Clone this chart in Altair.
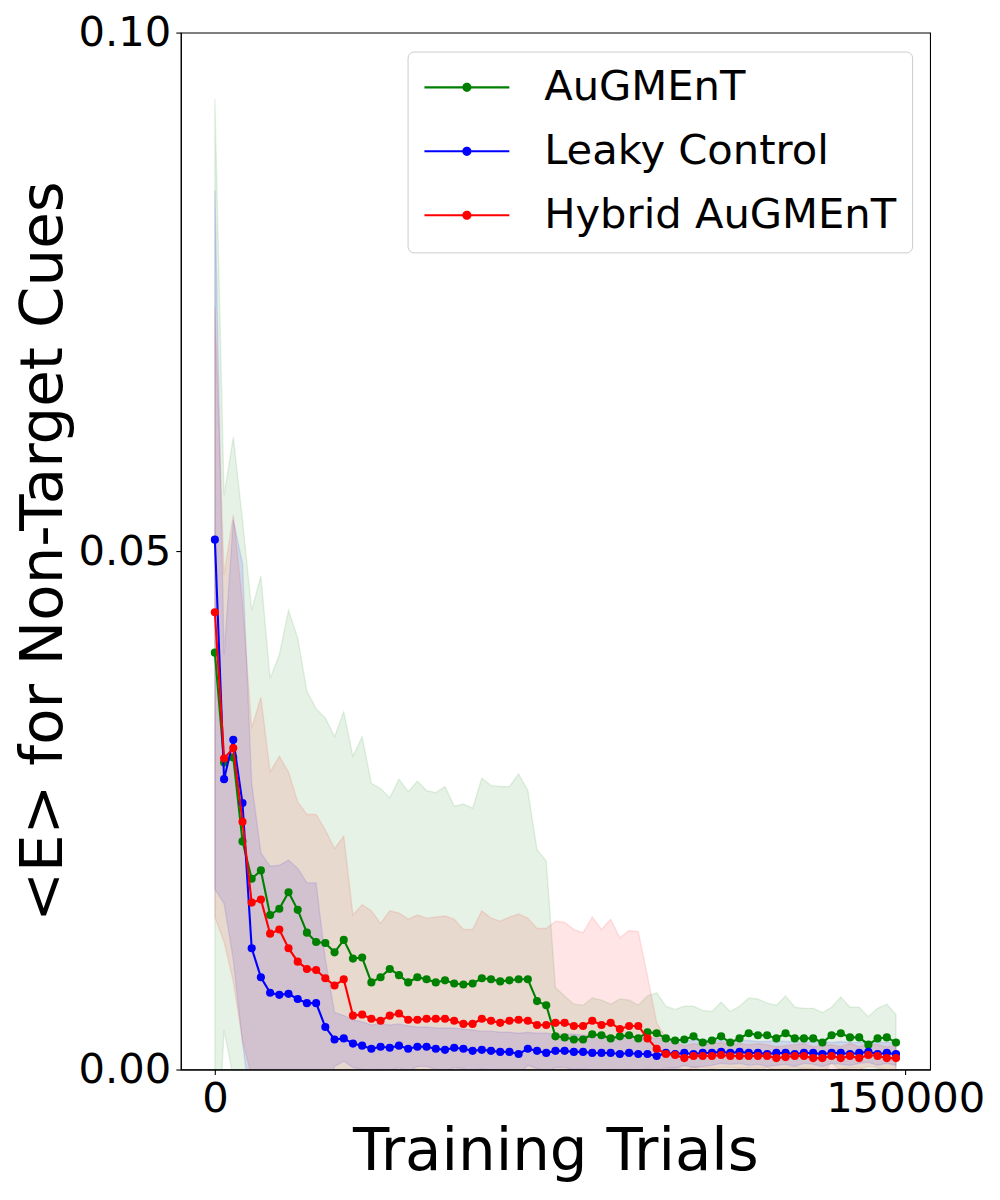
import altair as alt
import pandas as pd

trials = list(range(0, 150000, 2000))  # 75 evaluation points

series_names = ["AuGMEnT", "Leaky Control", "Hybrid AuGMEnT"]
series_colors = ["#008000", "#0000ff", "#ff0000"]

green_mean = [0.0402, 0.0296, 0.0301, 0.0220, 0.0184, 0.0192, 0.0149, 0.0155, 0.0171, 0.0154,
              0.0132, 0.0123, 0.0122, 0.0113, 0.0125, 0.0107, 0.0108, 0.0084, 0.0089, 0.0097,
              0.0091, 0.0084, 0.0089, 0.0087, 0.0084, 0.0086, 0.0083, 0.0082, 0.0083, 0.0088,
              0.0087, 0.0085, 0.0086, 0.0087, 0.0087, 0.0066, 0.0062, 0.0032, 0.0031, 0.0029,
              0.0029, 0.0034, 0.0033, 0.0030, 0.0032, 0.0033, 0.0030, 0.0036, 0.0035, 0.0030,
              0.0028, 0.0029, 0.0032, 0.0026, 0.0028, 0.0032, 0.0026, 0.0030, 0.0035, 0.0033,
              0.0033, 0.0030, 0.0035, 0.0030, 0.0030, 0.0030, 0.0026, 0.0033, 0.0035, 0.0031,
              0.0031, 0.0024, 0.0030, 0.0031, 0.0026]
green_upper = [0.0936, 0.0554, 0.0610, 0.0530, 0.0443, 0.0476, 0.0377, 0.0400, 0.0443, 0.0416,
               0.0365, 0.0348, 0.0339, 0.0321, 0.0345, 0.0302, 0.0321, 0.0276, 0.0271, 0.0262,
               0.0280, 0.0268, 0.0278, 0.0269, 0.0267, 0.0273, 0.0254, 0.0256, 0.0252, 0.0281,
               0.0274, 0.0273, 0.0273, 0.0285, 0.0269, 0.0212, 0.0201, 0.0079, 0.0071, 0.0063,
               0.0062, 0.0069, 0.0067, 0.0063, 0.0068, 0.0067, 0.0062, 0.0071, 0.0074, 0.0061,
               0.0058, 0.0061, 0.0061, 0.0057, 0.0056, 0.0065, 0.0056, 0.0061, 0.0069, 0.0068,
               0.0064, 0.0062, 0.0071, 0.0060, 0.0059, 0.0059, 0.0055, 0.0060, 0.0070, 0.0060,
               0.0060, 0.0051, 0.0059, 0.0063, 0.0053]

blue_mean = [0.0511, 0.0280, 0.0318, 0.0257, 0.0117, 0.0089, 0.0074, 0.0072, 0.0073, 0.0068,
             0.0064, 0.0064, 0.0041, 0.0029, 0.0030, 0.0025, 0.0023, 0.0020, 0.0022, 0.0021,
             0.0023, 0.0020, 0.0022, 0.0022, 0.0020, 0.0019, 0.0021, 0.0020, 0.0018, 0.0019,
             0.0018, 0.0017, 0.0017, 0.0015, 0.0020, 0.0018, 0.0016, 0.0018, 0.0018, 0.0017,
             0.0017, 0.0016, 0.0016, 0.0016, 0.0015, 0.0016, 0.0015, 0.0015, 0.0013, 0.0016,
             0.0015, 0.0016, 0.0015, 0.0016, 0.0016, 0.0017, 0.0016, 0.0017, 0.0016, 0.0016,
             0.0015, 0.0016, 0.0016, 0.0015, 0.0016, 0.0016, 0.0015, 0.0016, 0.0016, 0.0015,
             0.0016, 0.0017, 0.0015, 0.0016, 0.0015]
blue_upper = [0.0848, 0.0400, 0.0530, 0.0488, 0.0276, 0.0209, 0.0196, 0.0197, 0.0202, 0.0194,
              0.0180, 0.0180, 0.0106, 0.0055, 0.0052, 0.0048, 0.0046, 0.0043, 0.0044, 0.0043,
              0.0044, 0.0042, 0.0041, 0.0041, 0.0040, 0.0040, 0.0040, 0.0039, 0.0038, 0.0037,
              0.0037, 0.0036, 0.0036, 0.0035, 0.0036, 0.0035, 0.0035, 0.0034, 0.0034, 0.0034,
              0.0033, 0.0033, 0.0033, 0.0032, 0.0032, 0.0032, 0.0031, 0.0031, 0.0030, 0.0030,
              0.0029, 0.0028, 0.0028, 0.0029, 0.0028, 0.0028, 0.0027, 0.0028, 0.0028, 0.0027,
              0.0027, 0.0028, 0.0027, 0.0027, 0.0026, 0.0027, 0.0027, 0.0026, 0.0027, 0.0026,
              0.0026, 0.0027, 0.0026, 0.0026, 0.0026]

red_mean = [0.0441, 0.0300, 0.0310, 0.0239, 0.0161, 0.0164, 0.0131, 0.0135, 0.0117, 0.0104,
            0.0097, 0.0096, 0.0088, 0.0081, 0.0087, 0.0052, 0.0053, 0.0049, 0.0047, 0.0052,
            0.0054, 0.0048, 0.0048, 0.0049, 0.0049, 0.0049, 0.0047, 0.0044, 0.0044, 0.0049,
            0.0047, 0.0045, 0.0047, 0.0048, 0.0047, 0.0043, 0.0043, 0.0045, 0.0045, 0.0042,
            0.0042, 0.0047, 0.0043, 0.0045, 0.0039, 0.0042, 0.0042, 0.0030, 0.0020, 0.0015,
            0.0014, 0.0011, 0.0013, 0.0013, 0.0013, 0.0014, 0.0013, 0.0013, 0.0013, 0.0013,
            0.0013, 0.0011, 0.0012, 0.0013, 0.0013, 0.0011, 0.0011, 0.0013, 0.0011, 0.0013,
            0.0011, 0.0014, 0.0013, 0.0011, 0.0011]
red_upper = [0.0735, 0.0477, 0.0535, 0.0450, 0.0329, 0.0359, 0.0287, 0.0302, 0.0287, 0.0258,
             0.0246, 0.0246, 0.0231, 0.0213, 0.0225, 0.0149, 0.0159, 0.0153, 0.0141, 0.0153,
             0.0151, 0.0145, 0.0149, 0.0146, 0.0147, 0.0148, 0.0145, 0.0135, 0.0135, 0.0153,
             0.0146, 0.0143, 0.0147, 0.0150, 0.0146, 0.0136, 0.0136, 0.0143, 0.0142, 0.0135,
             0.0132, 0.0147, 0.0135, 0.0145, 0.0127, 0.0134, 0.0133, 0.0090, 0.0045, 0.0030,
             0.0026, 0.0023, 0.0025, 0.0024, 0.0025, 0.0026, 0.0024, 0.0025, 0.0024, 0.0025,
             0.0024, 0.0022, 0.0023, 0.0024, 0.0025, 0.0022, 0.0023, 0.0024, 0.0022, 0.0025,
             0.0022, 0.0025, 0.0024, 0.0022, 0.0023]

x_ticks = [0, 150000]
y_ticks = [0.0, 0.05, 0.10]

rows = []
for name, means, uppers in zip(series_names,
                               [green_mean, blue_mean, red_mean],
                               [green_upper, blue_upper, red_upper]):
    for t, m, u in zip(trials, means, uppers):
        rows.append({"trial": t, "series": name, "mean": m, "upper": u, "lower": 2 * m - u})
df = pd.DataFrame(rows)

FONT = "DejaVu Sans"
xscale = alt.Scale(domain=[-7400, 155400], nice=False, zero=False)
yscale = alt.Scale(domain=[0, 0.1], nice=False, zero=False)
cscale = alt.Scale(domain=series_names, range=series_colors)

x_axis = alt.Axis(values=x_ticks, format="d", labelFont=FONT, labelFontSize=41.7,
                  labelColor="black", tickColor="black", tickSize=5, tickWidth=1.1,
                  domainColor="black", domainWidth=1.1, grid=False, labelPadding=4,
                  labelFlush=False, labelOverlap=False, labelBound=False,
                  titleFont=FONT, titleFontSize=59.5, titleFontWeight="normal",
                  titleColor="black", titlePadding=2)
y_axis = alt.Axis(values=y_ticks, format=".2f", labelFont=FONT, labelFontSize=41.7,
                  labelColor="black", tickColor="black", tickSize=5, tickWidth=1.1,
                  domainColor="black", domainWidth=1.1, grid=False, labelPadding=5,
                  labelFlush=False, labelOverlap=False, labelBound=False,
                  titleFont=FONT, titleFontSize=59.5, titleFontWeight="normal",
                  titleColor="black", titlePadding=5)

X = alt.X("trial:Q", scale=xscale, axis=x_axis, title="Training Trials")
Y_mean = alt.Y("mean:Q", scale=yscale, axis=y_axis, title="<E> for Non-Target Cues")
Y_low = alt.Y("lower:Q", scale=yscale, axis=y_axis, title="<E> for Non-Target Cues")

# legend glyph: a line with a dot in its middle (unit = sqrt(symbolSize)/2 = 20 px)
LEGEND_SYMBOL = ("M-0.95,-0.052 L3.3,-0.052 L3.3,0.052 L-0.95,0.052 Z "
                 "M1.405,0 A0.23,0.23 0 1,1 0.945,0 A0.23,0.23 0 1,1 1.405,0 Z")
legend = alt.Legend(title=None, orient="none", legendX=227, legendY=19,
                    symbolType=LEGEND_SYMBOL, symbolSize=1600, symbolStrokeWidth=0,
                    symbolOpacity=1, labelFont=FONT, labelFontSize=41.7, labelColor="black",
                    labelOffset=80, labelLimit=600, padding=15, rowPadding=21,
                    fillColor="rgba(255,255,255,0.8)", strokeColor="#cccccc",
                    cornerRadius=6)

base = alt.Chart(df)

areas = []
lines = []
for name, col in zip(series_names, series_colors):
    sub = base.transform_filter(alt.datum.series == name)
    areas.append(sub.mark_area(clip=True, fillOpacity=0.1, strokeOpacity=0.1,
                               strokeWidth=1.4, color=col, stroke=col).encode(
        x=X, y=Y_low, y2="upper:Q"))
    lines.append(sub.mark_line(strokeWidth=2.1, clip=True, color=col).encode(
        x=X, y=Y_mean))
    lines.append(sub.mark_circle(size=66, opacity=1, clip=True).encode(
        x=X, y=Y_mean,
        color=alt.Color("series:N", scale=cscale, legend=legend)))

chart = alt.layer(*(areas + lines)).properties(
    width=750, height=1038,
    background="white",
    autosize=alt.AutoSizeParams(type="none"),
    padding={"left": 173, "top": 24, "right": 62, "bottom": 122},
).configure_view(stroke="black", strokeWidth=1.1)

chart.save("out.html", embed_options={"renderer": "svg", "actions": False})
